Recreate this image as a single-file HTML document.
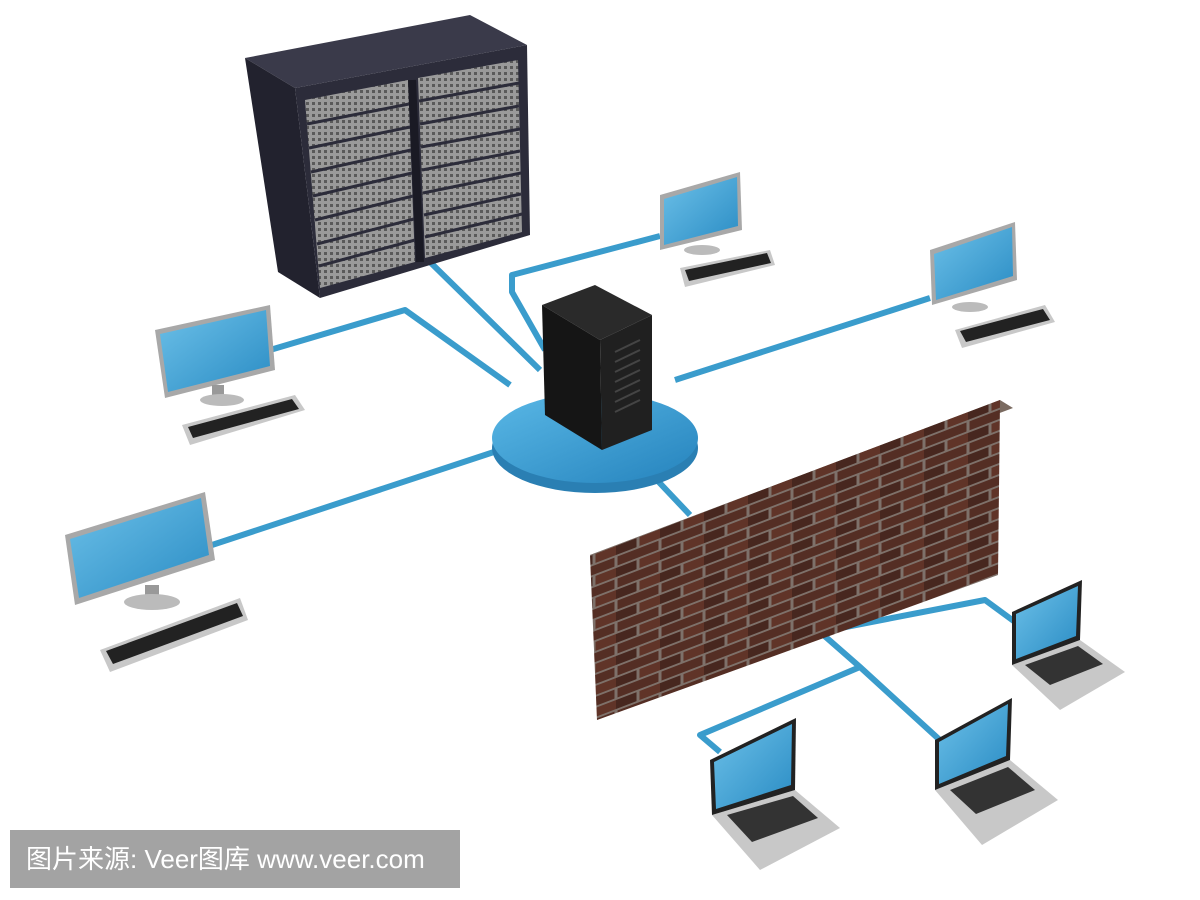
<!DOCTYPE html>
<html><head><meta charset="utf-8"><style>
html,body{margin:0;padding:0;background:#fff;}
svg{display:block}
.wm{position:absolute;left:10px;top:830px;width:450px;height:58px;background:#a3a3a3;color:#fff;font-family:"Liberation Sans","Noto Sans CJK SC",sans-serif;font-size:26px;line-height:58px;padding-left:16px;box-sizing:border-box;white-space:nowrap;}
</style></head><body>
<div style="position:relative;width:1200px;height:900px;overflow:hidden">
<svg width="1200" height="900" viewBox="0 0 1200 900">
<defs>
<linearGradient id="scr" x1="0" y1="0" x2="1" y2="1"><stop offset="0" stop-color="#6cc0e8"/><stop offset="1" stop-color="#2a8cc4"/></linearGradient>
<linearGradient id="hub" x1="0" y1="0" x2="1" y2="1"><stop offset="0" stop-color="#5ab8e6"/><stop offset="1" stop-color="#2583bd"/></linearGradient>
<pattern id="brick" width="44" height="22" patternUnits="userSpaceOnUse" patternTransform="skewY(-21)">
<rect width="44" height="22" fill="#8f8680"/>
<rect x="1.5" y="1.5" width="41" height="9" fill="#5b3328"/>
<rect x="-20.5" y="12.5" width="41" height="9" fill="#4a2a22"/>
<rect x="23.5" y="12.5" width="41" height="9" fill="#6a3a2d"/>
</pattern>
<pattern id="grill" width="6" height="6" patternUnits="userSpaceOnUse"><rect width="6" height="6" fill="#9a9a9a"/><rect width="3" height="3" fill="#5a5a5a"/></pattern>
</defs>
<g fill="none" stroke="#3a9ccc" stroke-width="6" stroke-linejoin="round">
<polyline points="430,262 540,370"/>
<polyline points="270,350 405,310 510,385"/>
<polyline points="545,350 512,292 512,275 660,236"/>
<polyline points="675,380 930,298"/>
<polyline points="500,450 212,545"/>
<polyline points="655,478 690,515"/>
<polyline points="820,632 985,600 1015,622"/>
<polyline points="820,632 860,667 942,742"/>
<polyline points="860,667 700,735 720,752"/>
</g>
<ellipse cx="595" cy="448" rx="103" ry="45" fill="#2a7fb3"/>
<ellipse cx="595" cy="438" rx="103" ry="45" fill="url(#hub)"/>
<polygon points="542,305 595,285 652,315 600,340" fill="#2a2a2a"/>
<polygon points="542,305 600,340 602,450 545,415" fill="#151515"/>
<polygon points="600,340 652,315 652,430 602,450" fill="#202020"/>
<g stroke="#444" stroke-width="2"><line x1="615" y1="352" x2="640" y2="340"/><line x1="615" y1="362" x2="640" y2="350"/><line x1="615" y1="372" x2="640" y2="360"/><line x1="615" y1="382" x2="640" y2="370"/><line x1="615" y1="392" x2="640" y2="380"/><line x1="615" y1="402" x2="640" y2="390"/><line x1="615" y1="412" x2="640" y2="400"/></g>
<polygon points="245,58 470,15 527,45 295,88" fill="#3a3a4a"/>
<polygon points="245,58 295,88 320,298 278,272" fill="#22222e"/>
<polygon points="295,88 527,45 530,235 320,298" fill="#2c2c3a"/>
<polygon points="305,100 408,80 415,262 320,288" fill="url(#grill)"/>
<polygon points="418,78 518,60 522,232 425,258" fill="url(#grill)"/>
<g stroke="#2c2c3a" stroke-width="3">
<line x1="307" y1="124" x2="409" y2="104"/><line x1="309" y1="148" x2="410" y2="127"/><line x1="311" y1="172" x2="411" y2="150"/><line x1="313" y1="196" x2="412" y2="173"/><line x1="315" y1="220" x2="413" y2="196"/><line x1="317" y1="244" x2="414" y2="219"/><line x1="319" y1="266" x2="415" y2="240"/>
<line x1="419" y1="101" x2="519" y2="83"/><line x1="420" y1="124" x2="519" y2="106"/><line x1="421" y1="147" x2="520" y2="129"/><line x1="422" y1="170" x2="520" y2="151"/><line x1="423" y1="193" x2="521" y2="173"/><line x1="424" y1="215" x2="521" y2="194"/><line x1="425" y1="237" x2="522" y2="214"/>
</g>
<line x1="412" y1="80" x2="420" y2="262" stroke="#1a1a24" stroke-width="8"/>
<polygon points="590,555 1000,400 1013,408 603,562" fill="#7a6a60"/>
<polygon points="590,555 1000,400 998,575 597,720" fill="url(#brick)"/>
<polygon points="590,555 1000,400 998,575 597,720" fill="#3a1c14" opacity="0.2"/>
<g>
<polygon points="155,330 270,305 275,370 165,398" fill="#a8a8a8"/><polygon points="160,334 266,310 270,366 168,392" fill="url(#scr)"/>
<rect x="212" y="385" width="12" height="15" fill="#999"/><ellipse cx="222" cy="400" rx="22" ry="6" fill="#bbb"/>
<polygon points="182,425 295,395 305,410 190,445" fill="#c8c8c8"/><polygon points="188,427 292,399 299,409 193,438" fill="#222"/>
<polygon points="65,535 205,492 215,560 75,605" fill="#a8a8a8"/><polygon points="70,539 201,498 209,555 79,598" fill="url(#scr)"/>
<rect x="145" y="585" width="14" height="18" fill="#999"/><ellipse cx="152" cy="602" rx="28" ry="8" fill="#bbb"/>
<polygon points="100,650 240,598 248,620 110,672" fill="#c8c8c8"/><polygon points="106,651 237,603 243,616 113,664" fill="#222"/>
<polygon points="660,195 740,172 742,230 660,250" fill="#a8a8a8"/><polygon points="664,199 737,177 738,226 664,245" fill="url(#scr)"/>
<ellipse cx="702" cy="250" rx="18" ry="5" fill="#bbb"/>
<polygon points="680,268 770,250 775,265 685,287" fill="#c8c8c8"/><polygon points="685,270 767,253 771,263 689,281" fill="#222"/>
<polygon points="930,250 1015,222 1017,280 932,305" fill="#a8a8a8"/><polygon points="934,254 1012,227 1013,276 936,300" fill="url(#scr)"/>
<ellipse cx="970" cy="307" rx="18" ry="5" fill="#bbb"/>
<polygon points="955,330 1045,305 1055,322 962,348" fill="#c8c8c8"/><polygon points="960,331 1043,309 1050,320 966,342" fill="#222"/>
</g>
<g>
<polygon points="1012,665 1080,640 1125,672 1060,710" fill="#c8c8c8"/><polygon points="1025,665 1078,646 1103,664 1050,685" fill="#333"/>
<polygon points="1012,612 1082,580 1080,640 1012,665" fill="#222"/><polygon points="1016,614 1078,586 1076,636 1016,659" fill="url(#scr)"/>
<polygon points="935,790 1010,760 1058,800 982,845" fill="#c8c8c8"/><polygon points="950,790 1008,767 1035,790 976,814" fill="#333"/>
<polygon points="935,740 1012,698 1010,760 935,790" fill="#222"/><polygon points="939,742 1008,704 1006,756 939,784" fill="url(#scr)"/>
<polygon points="712,815 795,790 840,828 760,870" fill="#c8c8c8"/><polygon points="727,815 793,796 818,818 752,842" fill="#333"/>
<polygon points="710,760 796,718 795,790 712,815" fill="#222"/><polygon points="714,762 792,724 791,785 716,809" fill="url(#scr)"/>
</g>
</svg>
<div class="wm">图片来源: Veer图库 www.veer.com</div>
</div>
</body></html>
